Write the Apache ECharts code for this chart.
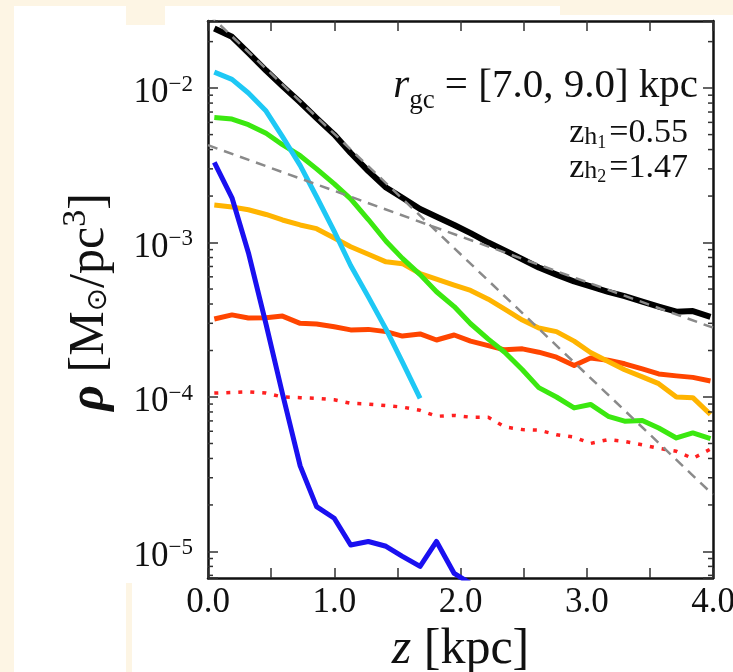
<!DOCTYPE html>
<html><head><meta charset="utf-8">
<script src="https://cdn.jsdelivr.net/npm/echarts@6/dist/echarts.min.js"></script>
<style>
html,body{margin:0;padding:0;width:733px;height:672px;background:#fdf5e4;overflow:hidden;}
.w{position:absolute;background:#fff;}
#chart{position:absolute;left:0;top:0;width:733px;height:672px;}
</style></head><body>
<div class="w" style="left:14px;top:6px;width:112px;height:666px"></div>
<div class="w" style="left:126px;top:25px;width:607px;height:558px"></div>
<div class="w" style="left:132px;top:583px;width:601px;height:89px"></div>
<div class="w" style="left:165px;top:6px;width:395px;height:19px"></div>
<div class="w" style="left:560px;top:15px;width:173px;height:10px"></div>
<div id="chart"></div>
<script>
// ---- data ----
const zValues = [0.05, 0.19, 0.32, 0.46, 0.59, 0.73, 0.86, 1.00, 1.13, 1.27, 1.41, 1.54, 1.68, 1.81, 1.95,
                 2.08, 2.22, 2.35, 2.49, 2.62, 2.76, 2.90, 3.03, 3.17, 3.30, 3.44, 3.57, 3.71, 3.84, 3.98];
const totalRho = [0.0243, 0.0215, 0.0169, 0.0130, 0.0103, 0.0081, 0.0064, 0.0050, 0.0038, 0.0029,
                  0.00227, 0.00195, 0.00165, 0.00147, 0.0013, 0.00115, 0.0010, 0.00089, 0.00078, 0.00069,
                  0.00062, 0.00056, 0.00052, 0.00048, 0.00045, 0.000415, 0.000385, 0.000357, 0.00036, 0.00033];
const cyanRho = [0.0127, 0.0114, 0.0093, 0.0071, 0.00485, 0.00316, 0.00198, 0.00118, 0.00071, 0.000445,
                 0.000275, 0.000168, 0.000098];
const greenRho = [0.00645, 0.0063, 0.0058, 0.0051, 0.0043, 0.00365, 0.0030, 0.0024, 0.00192, 0.00141,
                  0.00102, 0.00079, 0.00062, 0.00048, 0.000385, 0.000298, 0.000237, 0.000195, 0.00015, 0.000115,
                  0.0001, 0.000085, 0.0000895, 0.000075, 0.0000697, 0.0000705, 0.000063, 0.0000543, 0.0000585, 0.0000537];
const blueRho = [0.0033, 0.00195, 0.00086, 0.000295, 0.000105, 0.0000358, 0.0000195, 0.0000164, 0.000011, 0.0000116,
                 0.0000108, 0.0000093, 0.000008, 0.0000116, 0.0000072, 0.0000062];
const orangeRho = [0.00175, 0.0017, 0.00163, 0.00152, 0.0014, 0.0013, 0.00123, 0.00107, 0.00094, 0.00084,
                   0.00075, 0.00073, 0.00063, 0.00058, 0.00053, 0.00049, 0.00043, 0.00037, 0.000315, 0.00028,
                   0.000265, 0.00023, 0.000194, 0.00017, 0.00015, 0.000135, 0.000122, 0.0001, 0.000099, 0.000077];
const redRho = [0.00032, 0.00034, 0.000325, 0.000326, 0.000334, 0.0003, 0.000297, 0.000285, 0.000272, 0.000274,
                0.000265, 0.000248, 0.000256, 0.000234, 0.000252, 0.00023, 0.000215, 0.000202, 0.000205, 0.000195,
                0.000181, 0.00016, 0.000179, 0.000173, 0.000164, 0.000152, 0.000141, 0.000137, 0.000134, 0.000127];
const dottedRho = [0.000106, 0.000107, 0.000108, 0.000106, 0.0001, 0.000099, 0.000098, 0.000096, 0.000091, 0.00009,
                   0.000088, 0.000086, 0.000082, 0.000075, 0.000076, 0.000074, 0.000074, 0.000064, 0.0000615, 0.000061,
                   0.000057, 0.000055, 0.00005, 0.000053, 0.0000515, 0.000049, 0.0000465, 0.0000445, 0.00004, 0.000046];
// exponential fits (straight lines in log space), endpoints at z = 0 and z = 4
const fitZ = [0, 4];
const thinFitRho = [0.0304, 0.0000233];   // z_h1 = 0.55
const thickFitRho = [0.00427, 0.000281];  // z_h2 = 1.47
// axes
const xMin = 0, xMax = 4, xStep = 0.5;
const yMin = 6.73e-6, yMax = 0.0272;
const majorDecades = [1e-6, 1e-5, 1e-4, 1e-3, 1e-2];
const minorMultipliers = [2, 3, 4, 5, 6, 7, 8, 9];
// text
const rangeLabel = ['r', 'gc', ' = [7.0, 9.0] kpc'];
const scaleHeights = [['1', '=0.55'], ['2', '=1.47']];

const FONT = 'Liberation Serif';
const INK = '#111';

function pairs(ys) { return ys.map((y, i) => [zValues[i], y]); }
function fitPairs(ys) { return ys.map((y, i) => [fitZ[i], y]); }

const minorTickValues = [];
majorDecades.forEach(d => minorMultipliers.forEach(m => {
  const v = m * d; if (v > yMin && v < yMax) minorTickValues.push([xMin, v]);
}));

function lineSeries(name, data, color, width, type, z) {
  return { name, type: 'line', data, showSymbol: false, symbol: 'none', z: z,
    lineStyle: { color, width, type: type || 'solid', cap: 'butt', join: 'round' }, clip: true, silent: true };
}

function zhText(i, y) {
  return { type: 'text', x: 688, y: y, z: 100, style: {
    text: '{z|z}{h|h}{k|' + scaleHeights[i][0] + '}{n|' + scaleHeights[i][1] + '}',
    align: 'right', verticalAlign: 'middle',
    rich: {
      z: { fontFamily: FONT, fontSize: 34, fill: INK },
      h: { fontFamily: FONT, fontSize: 26, fill: INK, padding: [7, 0, 0, 0] },
      k: { fontFamily: FONT, fontSize: 18, fill: INK, padding: [19, 3, 0, 0] },
      n: { fontFamily: FONT, fontSize: 34, fill: INK } } } };
}

const chart = echarts.init(document.getElementById('chart'), null, { renderer: 'canvas' });
chart.setOption({
  animation: false,
  backgroundColor: 'transparent',
  grid: { left: 208, right: 20, top: 21, bottom: 94, containLabel: false, outerBoundsMode: 'none' },
  xAxis: [{
    type: 'value', min: xMin, max: xMax, interval: xStep, position: 'bottom',
    axisLine: { show: true, onZero: false, lineStyle: { color: INK, width: 2.5 } },
    axisTick: { inside: true, length: 10, lineStyle: { color: '#333', width: 1.5 } },
    splitLine: { show: false },
    axisLabel: { margin: 7, fontFamily: FONT, fontSize: 35, color: INK,
      formatter: v => (Math.abs(v - Math.round(v)) < 1e-9 ? v.toFixed(1) : '') },
    name: '{i|z}{n| [kpc]}', nameLocation: 'middle', nameGap: 20,
    nameTextStyle: { rich: {
      i: { fontFamily: FONT, fontSize: 50, fontStyle: 'italic', color: INK },
      n: { fontFamily: FONT, fontSize: 50, color: INK } } }
  }, {
    type: 'value', min: xMin, max: xMax, interval: xStep, position: 'top',
    axisLine: { show: true, onZero: false, lineStyle: { color: INK, width: 2.5 } },
    axisTick: { inside: true, length: 10, lineStyle: { color: '#333', width: 1.5 } },
    splitLine: { show: false }, axisLabel: { show: false }
  }],
  yAxis: [{
    type: 'log', logBase: 10, min: yMin, max: yMax, position: 'left',
    axisLine: { show: true, onZero: false, lineStyle: { color: INK, width: 2.5 } },
    axisTick: { inside: true, length: 10, lineStyle: { color: '#333', width: 1.5 } },
    splitLine: { show: false },
    axisLabel: { margin: 15, color: INK,
      formatter: function (v) {
        const e = Math.log10(v), r = Math.round(e);
        if (Math.abs(e - r) > 1e-6) return '';
        return '{b|10}{s|\u2212' + (-r) + '}';
      },
      rich: {
        b: { fontFamily: FONT, fontSize: 35, color: INK, padding: [10, 0, 0, 0] },
        s: { fontFamily: FONT, fontSize: 23, color: INK, padding: [0, 0, 7, 0] }
      } }
  }, {
    type: 'log', logBase: 10, min: yMin, max: yMax, position: 'right',
    axisLine: { show: true, onZero: false, lineStyle: { color: INK, width: 2.5 } },
    axisTick: { inside: true, length: 10, lineStyle: { color: '#333', width: 1.5 } },
    splitLine: { show: false }, axisLabel: { show: false }
  }],
  graphic: [
    { type: 'text', x: 90, y: 302, rotation: Math.PI / 2, z: 100, style: {
      text: '{i|\u03c1}{n| [M}{sub|\u2299}{n|/pc}{sup|3}{n|]}',
      align: 'center', verticalAlign: 'middle',
      rich: {
        i: { fontFamily: FONT, fontSize: 50, fontStyle: 'italic', fontWeight: 'bold', fill: INK },
        n: { fontFamily: FONT, fontSize: 50, fill: INK },
        sub: { fontFamily: 'DejaVu Sans', fontSize: 28, fill: INK, padding: [18, 0, 0, 0] },
        sup: { fontFamily: FONT, fontSize: 34, fill: INK, padding: [0, 0, 28, 0] } } } },
    { type: 'text', x: 698, y: 86.5, z: 100, style: {
      text: '{i|' + rangeLabel[0] + '}{s|' + rangeLabel[1] + '}{n|' + rangeLabel[2] + '}',
      align: 'right', verticalAlign: 'middle',
      rich: {
        i: { fontFamily: FONT, fontSize: 41, fontStyle: 'italic', fill: INK },
        s: { fontFamily: FONT, fontSize: 27, fill: INK, padding: [28, 0, 0, 0] },
        n: { fontFamily: FONT, fontSize: 41, fill: INK } } } },
    zhText(0, 133.5),
    zhText(1, 168)
  ],
  series: [
    lineSeries('r dotted', pairs(dottedRho), '#ff2020', 3.5, [4, 8], 2),
    lineSeries('orangered', pairs(redRho), '#ff4500', 5, 'solid', 3),
    lineSeries('orange', pairs(orangeRho), '#ffb400', 5, 'solid', 4),
    lineSeries('green', pairs(greenRho), '#3be810', 5, 'solid', 5),
    lineSeries('cyan', pairs(cyanRho), '#1ec8f5', 5, 'solid', 6),
    lineSeries('blue', pairs(blueRho), '#1a10f0', 5, 'solid', 7),
    lineSeries('total', pairs(totalRho), '#000000', 6, 'solid', 8),
    lineSeries('thin fit', fitPairs(thinFitRho), '#8a8a8a', 2.5, [10, 7], 9),
    lineSeries('thick fit', fitPairs(thickFitRho), '#8a8a8a', 2.5, [10, 7], 9),
    { type: 'custom', name: 'minor ticks', silent: true, clip: false, z: 10,
      xAxisIndex: 0, yAxisIndex: 0, data: minorTickValues, encode: { x: 0, y: 1 },
      renderItem: function (params, api) {
        const l = api.coord([xMin, api.value(1)]);
        const r = api.coord([xMax, api.value(1)]);
        const st = { stroke: '#333', lineWidth: 1.5 };
        return { type: 'group', children: [
          { type: 'line', shape: { x1: l[0], y1: l[1], x2: l[0] + 5, y2: l[1] }, style: st },
          { type: 'line', shape: { x1: r[0], y1: r[1], x2: r[0] - 5, y2: r[1] }, style: st } ] };
      } }
  ]
});
</script>
</body></html>
